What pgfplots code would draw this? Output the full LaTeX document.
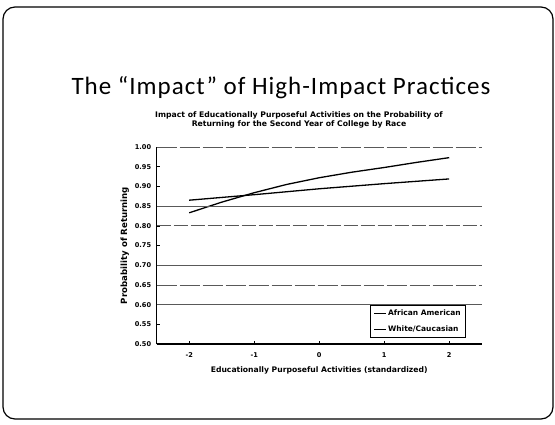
\documentclass[border=0pt]{standalone}
\usepackage{pgfplots}
\pgfplotsset{compat=1.18}
\usepackage{fontspec}
\setmainfont{Carlito}
\newfontfamily\chartfont{DejaVu Sans}
\begin{document}
\begin{tikzpicture}[x=1pt,y=-1pt]
\useasboundingbox (0,0) rectangle (555,424);
\draw[line width=1.2pt, rounded corners=12pt] (3,7) rectangle (553,419);
\node[font=\fontsize{25}{30}\selectfont\addfontfeature{LetterSpace=4}] at (281,88) {The “Impact” of High-Impact Practices};
\node[font=\chartfont\bfseries\fontsize{7.7}{9.4}\selectfont, align=center] at (299,120) {Impact of Educationally Purposeful Activities on the Probability of\\Returning for the Second Year of College by Race};
\begin{axis}[
  at={(156.7pt,-344pt)}, anchor=south west,
  width=325pt, height=197pt, scale only axis,
  xmin=-2.5, xmax=2.5, ymin=0.5, ymax=1.0,
  xtick={-2,-1,0,1,2},
  ytick={0.5,0.55,0.6,0.65,0.7,0.75,0.8,0.85,0.9,0.95,1.0},
  yticklabel style={/pgf/number format/fixed, /pgf/number format/fixed zerofill, /pgf/number format/precision=2, xshift=-2pt},
  /pgf/number format/assume math mode=true,
  ticklabel style={font=\chartfont\bfseries\fontsize{6.6}{8}\selectfont},
  xticklabel style={yshift=-5pt},
  axis x line*=bottom, axis y line*=left,
  axis line style={line width=1.2pt, -},
  tick style={black, line width=0.6pt},
  major tick length=3pt,
  xlabel={Educationally Purposeful Activities (standardized)},
  ylabel={Probability of Returning},
  xlabel style={font=\chartfont\bfseries\fontsize{7.65}{9}\selectfont, yshift=-2pt},
  ylabel style={font=\chartfont\bfseries\fontsize{8.6}{10}\selectfont, yshift=-1pt},
  legend style={at={(0.952,0.03)}, anchor=south east, draw=black, line width=0.8pt, font=\chartfont\bfseries\fontsize{7.5}{9}\selectfont, row sep=4pt, inner sep=3pt},
  legend cell align=left,
  legend image code/.code={\draw[black, line width=1.1pt] (0cm,0cm) -- (0.4cm,0cm);},
  clip=false,
]
\addplot[black, line width=1.3pt] coordinates {(-2,0.833) (-1.5,0.860) (-1,0.884) (-0.5,0.905) (0,0.922) (0.5,0.936) (1,0.948) (1.5,0.961) (2,0.973)};
\addlegendentry{African American}
\addplot[black, line width=1.3pt] coordinates {(-2,0.865) (-1,0.879) (0,0.894) (1,0.907) (2,0.919)};
\addlegendentry{White/Caucasian}
\addplot[gray!70!black, line width=0.7pt, forget plot] coordinates {(-2.5,0.85) (2.5,0.85)};
\addplot[gray!70!black, line width=0.7pt, dash pattern=on 14pt off 3pt, forget plot] coordinates {(-2.5,0.80) (2.5,0.80)};
\addplot[gray!70!black, line width=0.7pt, forget plot] coordinates {(-2.5,0.70) (2.5,0.70)};
\addplot[gray!70!black, line width=0.7pt, dash pattern=on 20pt off 3pt, forget plot] coordinates {(-2.5,0.65) (2.5,0.65)};
\addplot[gray!70!black, line width=0.7pt, forget plot] coordinates {(-2.5,0.60) (2.5,0.60)};
\addplot[gray!70!black, line width=0.7pt, dash pattern=on 20pt off 3pt, forget plot] coordinates {(-2.5,1.0) (2.5,1.0)};
\end{axis}
\end{tikzpicture}
\end{document}
